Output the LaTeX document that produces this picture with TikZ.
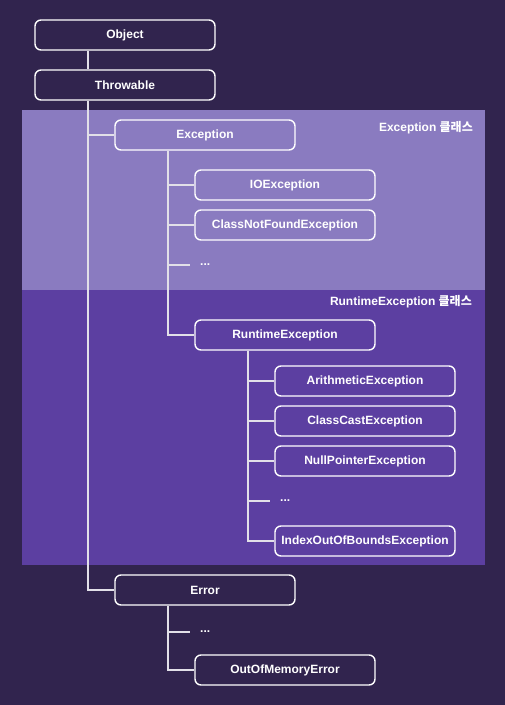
\documentclass[tikz,border=0pt]{standalone}
\usepackage{fontspec}
\setmainfont{Liberation Sans}
\newfontfamily\krfont{Noto Sans CJK KR}
\usepackage{tikz}
\usetikzlibrary{positioning,calc}
\definecolor{BGcolor}{RGB}{49,36,78}
\definecolor{EXcolor}{RGB}{138,123,192}
\definecolor{RTcolor}{RGB}{92,63,161}
\definecolor{LNcolor}{RGB}{226,224,232}

\begin{document}
\begin{tikzpicture}[x=1pt, y=-1pt, font=\fontsize{12}{14}\selectfont\bfseries]
  % Estilos
  \tikzset{
    cls/.style={draw=white,line width=1.4pt,rounded corners=6pt,minimum width=180pt,
      minimum height=30pt,inner sep=0pt,text=white},
    dots/.style={text=white,inner sep=5pt,anchor=west},
    area/.style={text=white,anchor=east,inner sep=0pt},
    conn/.style={draw=LNcolor,line width=1.4pt}
  }

  %================= FONDO =================
  \fill[BGcolor] (0,0) rectangle (505,705);
  \useasboundingbox (0,0) rectangle (505,705);
  \fill[EXcolor] (22,110) rectangle (485,290);
  \fill[RTcolor] (22,290) rectangle (485,565);

  \node[area] (lblEx) at (473,128) {Exception {\krfont 클래스}};
  \node[area] (lblRt) at (472,302) {RuntimeException {\krfont 클래스}};

  %================= NODOS =================
  \node[cls] (obj) at (125,35) {Object};
  \node[cls] (thr) at (125,85) {Throwable};

  \node[cls] (exc) at (205,135) {Exception};
  \node[cls] (ioe) at (285,185) {IOException};
  \node[cls] (cnf) at (285,225) {ClassNotFoundException};
  \node[dots] (excDots) at (195,265) {...};
  \node[cls] (rte) at (285,335) {RuntimeException};

  \node[cls] (ari) at (365,381) {ArithmeticException};
  \node[cls] (cce) at (365,421) {ClassCastException};
  \node[cls] (npe) at (365,461) {NullPointerException};
  \node[dots] (rteDots) at (275,501) {...};
  \node[cls] (ioob) at (365,541) {IndexOutOfBoundsException};

  \node[cls] (err) at (205,590) {Error};
  \node[dots] (errDots) at (195,632) {...};
  \node[cls] (oom) at (285,670) {OutOfMemoryError};

  %================= LÍNEAS =================
  \path[conn] ([xshift=-37pt]obj.south) -- ([xshift=-37pt]thr.north);
  \path[conn] ([xshift=-37pt]thr.south) |- (exc.west);
  \path[conn] ([xshift=-37pt]thr.south) |- (err.west);

  \foreach \t in {ioe,cnf,rte}
    \path[conn] ([xshift=-37pt]exc.south) |- (\t.west);
  \path[conn] ([xshift=-37pt]exc.south) |- ([xshift=-5pt]excDots.west);

  \foreach \t in {ari,cce,npe,ioob}
    \path[conn] ([xshift=-37pt]rte.south) |- (\t.west);
  \path[conn] ([xshift=-37pt]rte.south) |- ([xshift=-5pt]rteDots.west);

  \path[conn] ([xshift=-37pt]err.south) |- ([xshift=-5pt]errDots.west);
  \path[conn] ([xshift=-37pt]err.south) |- (oom.west);
\end{tikzpicture}
\end{document}
